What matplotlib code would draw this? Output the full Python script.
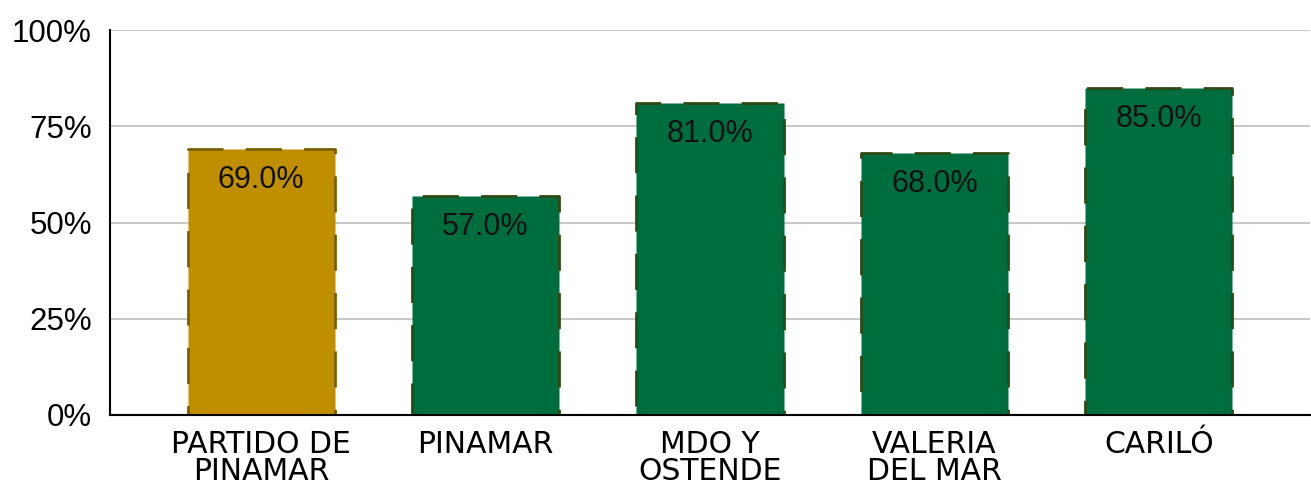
import matplotlib
matplotlib.use("Agg")
import matplotlib.pyplot as plt
from matplotlib.ticker import FuncFormatter

categories = ["PARTIDO DE\nPINAMAR", "PINAMAR", "MDO Y\nOSTENDE", "VALERIA\nDEL MAR", "CARILÓ"]
values = [69.0, 57.0, 81.0, 68.0, 85.0]
fills = ["#BF8F00", "#006D3F", "#006D3F", "#006D3F", "#006D3F"]
edges = ["#7A5F00", "#2E4A14", "#2E4A14", "#2E4A14", "#2E4A14"]
yticks = [0, 25, 50, 75, 100]

plt.rcParams['font.family'] = ['Liberation Sans', 'DejaVu Sans']

fig = plt.figure(figsize=(13.11, 4.93), dpi=100)
ax = fig.add_axes([110/1311, 1 - 415/493, 1200/1311, 385/493])

x = list(range(len(categories)))
bars = ax.bar(x, values, width=0.655, color=fills, edgecolor=edges,
              linewidth=2.0, linestyle=(0, (13, 8)), zorder=3)
for b in bars:
    b.set_joinstyle('round')

for xi, v in zip(x, values):
    ax.annotate(f"{v:.1f}%", (xi, v), xytext=(0, -31), textcoords='offset pixels',
                ha='center', va='center', fontsize=22, color='#111111', zorder=4)

ax.set_xlim(-0.673, 4.673)
ax.set_ylim(0, 100)
ax.set_yticks(yticks)
ax.yaxis.set_major_formatter(FuncFormatter(lambda v, p: f"{v:.0f}%"))
ax.set_xticks(x)
ax.set_xticklabels(categories, fontsize=21.5, linespacing=0.92,
                   fontfamily=['DejaVu Sans'])
ax.tick_params(axis='y', length=0, pad=13, labelsize=22.5)
ax.tick_params(axis='x', length=0, pad=11)
ax.grid(axis='y', color='#C8C8C8', linewidth=1.5, zorder=0)
ax.set_axisbelow(True)
for s in ['top', 'right']:
    ax.spines[s].set_visible(False)
for s in ['left', 'bottom']:
    ax.spines[s].set_color('#000000')
    ax.spines[s].set_linewidth(1.5)
    ax.spines[s].set_zorder(5)

fig.savefig("out.png", dpi=100)
